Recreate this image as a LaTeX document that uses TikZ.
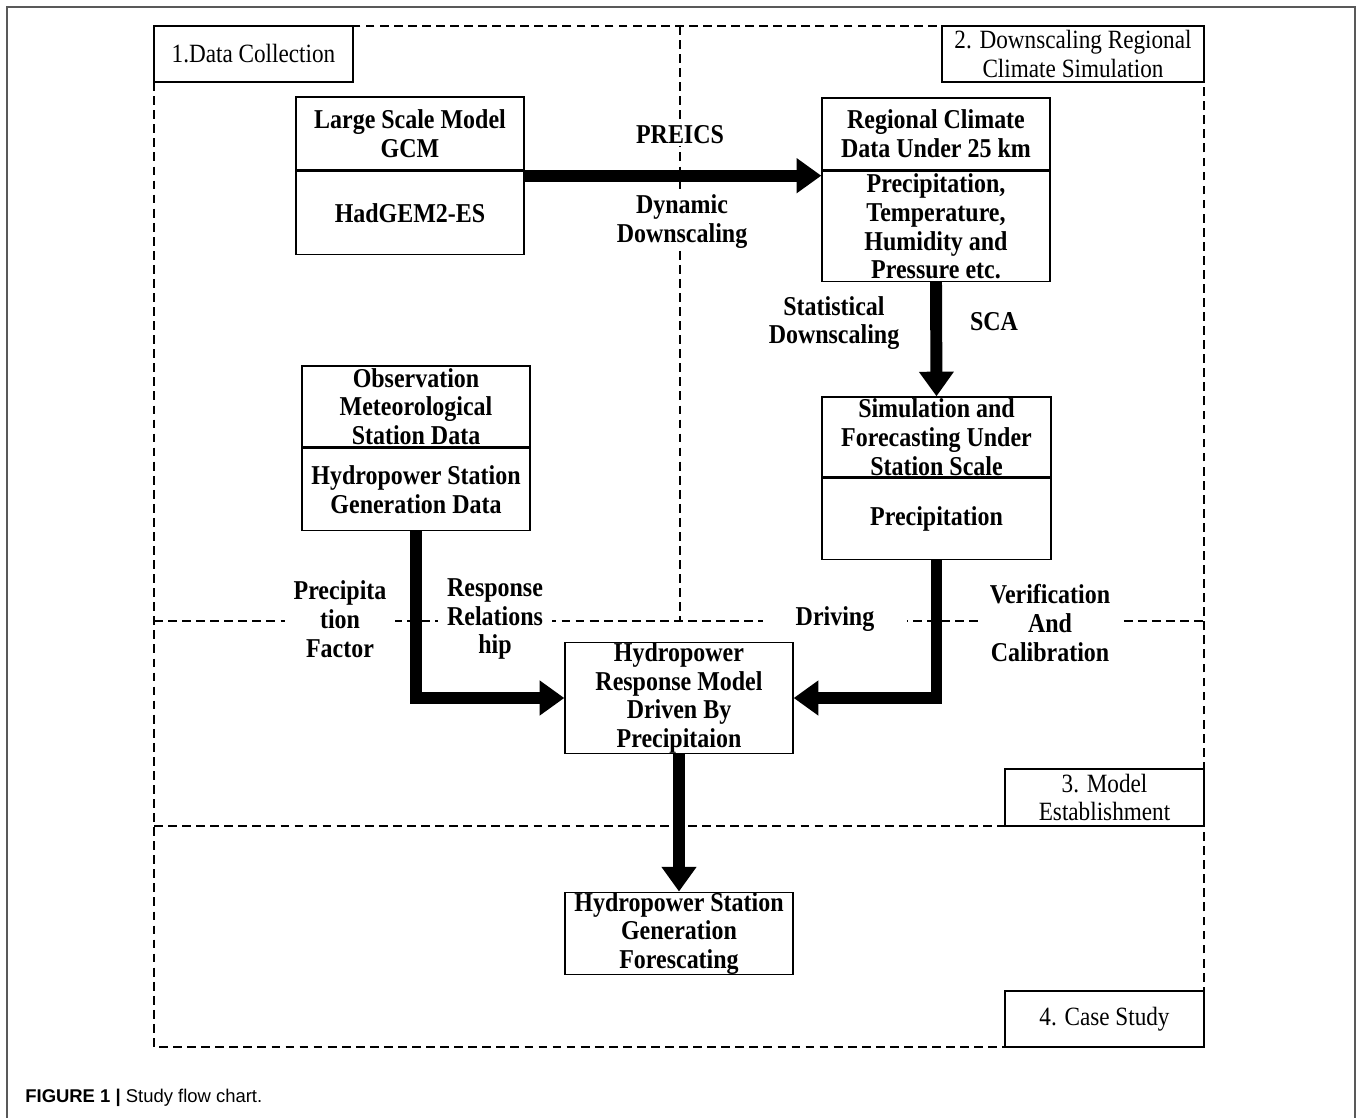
\documentclass[tikz,border=0pt]{standalone}
\usepackage{fontspec}
\setmainfont{Liberation Serif}[FakeStretch=0.88]
\setsansfont{Liberation Sans}
\usetikzlibrary{arrows.meta,positioning,calc}

\newcommand{\boxfont}{\fontsize{15.5}{16.4}\selectfont\bfseries}
\newcommand{\secfont}{\fontsize{15}{16.4}\selectfont}

\tikzset{
  databox/.style={draw, line width=0.8pt, minimum width=4.56cm, inner sep=0pt, align=center, font=\boxfont},
  seclabel/.style={draw, fill=white, line width=0.7pt, inner sep=0pt, align=center, font=\secfont},
  note/.style={fill=white, inner xsep=5pt, inner ysep=1pt, align=center, font=\boxfont},
  flowarrow/.style={line width=6.8pt, -{Triangle[length=14pt,width=19pt]}},
  region/.style={dash pattern=on 5pt off 3pt, line width=0.8pt}
}

\begin{document}
\begin{tikzpicture}[x=0.02cm,y=-0.02cm]
\useasboundingbox (0,0) rectangle (1362,1118);
% outer frame
\draw[gray!70!black, line width=0.8pt] (7,1125) |- (1355,7) -- (1355,1125);

% dashed regions
\draw[region] (154,26) rectangle (1204,1047);
\draw[region] (154,621) -- (1204,621);
\draw[region] (154,826) -- (1204,826);
\draw[region] (680,26) -- (680,621);

% section labels
\node[seclabel, minimum width=3.98cm, minimum height=1.12cm] (sec1) at (253.5,54) {1.Data Collection};
\node[seclabel, minimum width=5.24cm, minimum height=1.12cm] (sec2) at (1073,54) {2. Downscaling Regional\\Climate Simulation};
\node[seclabel, minimum width=3.98cm, minimum height=1.14cm] (sec3) at (1104.5,797.5) {3. Model\\Establishment};
\node[seclabel, minimum width=3.98cm, minimum height=1.12cm] (sec4) at (1104.5,1019) {4. Case Study};

% data boxes
\node[databox, minimum height=1.46cm] (gcmtop) at (410,133.5) {Large Scale Model\\GCM};
\node[databox, minimum height=1.66cm, below=0pt of gcmtop] (gcmbot) {HadGEM2-ES};

\node[databox, minimum height=1.44cm] (regtop) at (936,134) {Regional Climate\\Data Under 25 km};
\node[databox, minimum height=2.2cm, below=0pt of regtop] (regbot) {Precipitation,\\Temperature,\\Humidity and\\Pressure etc.};

\node[databox, minimum height=1.62cm] (obstop) at (416,406.5) {Observation\\Meteorological\\Station Data};
\node[databox, minimum height=1.64cm, below=0pt of obstop] (obsbot) {Hydropower Station\\Generation Data};

\node[databox, minimum width=4.58cm, minimum height=1.6cm] (simtop) at (936.5,437) {Simulation and\\Forecasting Under\\Station Scale};
\node[databox, minimum width=4.58cm, minimum height=1.62cm, below=0pt of simtop] (simbot) {Precipitation};

\node[databox, minimum height=2.12cm] (resp) at (679,698) {Hydropower\\Response Model\\Driven By\\Precipitaion};
\node[databox, minimum height=1.62cm] (fore) at (679,933.5) {Hydropower Station\\Generation\\Forescating};

% connector labels
\node[note] (preics) at (680,135) {PREICS};
\node[note] (dyn) at (682,221.5) {Dynamic\\Downscaling};
\node[note] (stat) at (834,323) {Statistical\\Downscaling};
\node[note] (sca) at (994,322) {SCA};
\node[note] (pfac) at (340,619) {Precipita\\tion\\Factor};
\node[note] (rrel) at (495,619) {Response\\Relations\\hip};
\node[note, minimum width=2.9cm] (driv) at (835,619) {Driving};
\node[note, minimum width=2.9cm] (veri) at (1050,623) {Verification\\And\\Calibration};

% arrows
\draw[flowarrow] ($(gcmbot.north east)+(0,5)$) -- ($(regbot.north west)+(0,5)$);
\draw[flowarrow] (regbot.south) -- (simtop.north);
\draw[flowarrow] (obsbot.south) |- (resp.west);
\draw[flowarrow] (simbot.south) |- (resp.east);
\draw[flowarrow] (resp.south) -- (fore.north);

% caption
\node[anchor=west, inner sep=0pt, font=\sffamily\fontsize{10.5}{12}\selectfont] (caption) at (25,1098) {\textbf{FIGURE 1 |} Study flow chart.};
\end{tikzpicture}
\end{document}
